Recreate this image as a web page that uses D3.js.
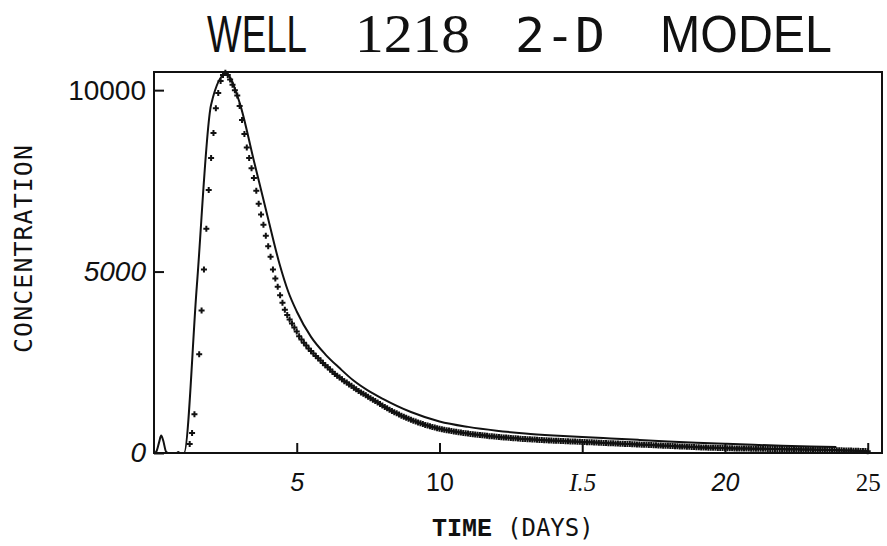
<!DOCTYPE html>
<html>
<head>
<meta charset="utf-8">
<script src="https://cdn.jsdelivr.net/npm/d3@7"></script>
<style>
  body { margin: 0; background: #fff; }
  svg { display: block; }
</style>
</head>
<body>
<svg id="svg" width="887" height="546"></svg>
<script>
// model curve (solid line), time in days
const modelDays = [0, 0.08, 0.18, 0.25, 0.32, 0.42, 0.5, 0.8, 0.85, 0.9, 1.05, 1.5, 2.0, 2.52, 3.0, 3.5, 4.0, 4.4, 4.7,
  5.0, 5.5, 6.0, 6.5, 7.0, 7.5, 8.0, 9.0, 10, 11, 12, 13, 14, 15, 16, 17, 18, 19, 20, 21, 22, 23, 23.9]
const modelConc = [0, 40, 300, 480, 350, 40, 0, 0, 30, 0, 0, 4600, 9600, 10450, 9650, 8050, 6450, 5200, 4450,
  3900, 3200, 2720, 2340, 1990, 1720, 1500, 1130, 870, 720, 615, 540, 485, 440, 400, 360, 320, 285, 255, 225, 200, 180, 165]

// observed tracer (+ markers), one sample every 2 hours starting at hour 30
const obsStartHour = 30
const obsStepHours = 2
const obsConc = [
  250, 550, 1070, null, 2720, 3930, 5060, 6180, 7250, 8130, 8820, 9500, 9920, 10250, 10420,
  10480, 10420, 10290, 10150, 10000, 9850, 9560, 9180, 8790, 8420, 8130, 7850, 7580, 7230, 6870, 6570, 6290, 5990,
  5700, 5410, 5060, 4810, 4580, 4350, 4140, 3950, 3800, 3680, 3570, 3460,
  3350, 3220, 3130, 3040, 2960, 2880, 2810, 2740, 2670, 2610, 2550, 2480,
  2420, 2360, 2300, 2240, 2180, 2130, 2080, 2030, 1980, 1940, 1890, 1850,
  1800, 1760, 1710, 1670, 1630, 1590, 1550, 1510, 1470, 1430, 1390, 1350,
  1310, 1270, 1232, 1195, 1160, 1126, 1093, 1061, 1030, 1000, 971, 943,
  916, 890, 865, 841, 818, 796, 775, 755, 736, 718, 701, 685, 669,
  655, 642, 629, 617, 605, 594, 583, 572, 562, 552,
  543, 534, 525, 517, 509, 501, 493, 486, 479, 472,
  465, 459, 453, 447, 441, 435, 429, 424, 419, 414,
  409, 404, 399, 394, 389, 385, 381, 377, 373, 369,
  365, 361, 357, 353, 350, 347, 344, 341, 338, 335,
  332, 329, 326, 323, 320, 317, 314, 311, 308, 305,
  302, 299, 296, 293, 290, 287, 284, 281, 278, 275,
  272, 269, 266, 263, 260, 257, 254, 251, 248, 245,
  242, 239, 236, 233, 230, 227, 224, 221, 218, 215,
  212, 209, 206, 203, 200, 197, 194, 191, 188, 185,
  182, 179, 176, 173, 170, 167, 164, 161, 158, 155,
  152, 150, 148, 146, 144, 142, 140, 138, 136, 134,
  132, 130, 128, 127, 126, 125, 124, 123, 122, 121,
  120, 119, 118, 117, 116, 115, 114, 113, 112, 111,
  110, 109, 108, 107, 106, 105, 104, 103, 102, 101,
  100, 99, 98, 97, 96, 95, 94, 93, 92, 91,
  90, 88, 86, 84, 82, 80, 78, 76, 74, 72,
  70, 68, 66, 64, 62, 60, 58, 55, 52, 50
]

const xTicks = [5, 10, 15, 20, 25]
const xTickLabels = ['5', '10', 'I.5', '20', '25']
const yTicks = [0, 5000, 10000]
const yTickLabels = ['0', '5000', '10000']

const svg = d3.select('#svg')

const x = d3.scaleLinear().domain([0, 25.5]).range([154, 882])
const y = d3.scaleLinear().domain([0, 10500]).range([453, 72])

// frame
svg.append('rect')
  .attr('x', x(0)).attr('y', y(10500))
  .attr('width', x(25.5) - x(0)).attr('height', y(0) - y(10500))
  .attr('fill', 'none').attr('stroke', '#111').attr('stroke-width', 2)

// axes, ticks pointing inward
const xAxis = svg.append('g')
  .attr('transform', `translate(0,${y(0)})`)
  .call(d3.axisBottom(x).tickValues(xTicks).tickSizeInner(-10).tickSizeOuter(0).tickPadding(20)
    .tickFormat((d, i) => xTickLabels[i]))
xAxis.select('.domain').remove()
xAxis.selectAll('line').attr('stroke', '#111').attr('stroke-width', 2)
// the original print mixes typefaces on the labels
const xFonts = [
  ['Liberation Sans', 'italic'], ['Liberation Sans', 'normal'], ['Liberation Serif', 'italic'],
  ['Liberation Sans', 'italic'], ['Liberation Serif', 'normal']]
xAxis.selectAll('text')
  .attr('fill', '#111')
  .style('font-size', '25px')
  .style('font-family', (d, i) => xFonts[i][0])
  .style('font-style', (d, i) => xFonts[i][1])

const yAxis = svg.append('g')
  .attr('transform', `translate(${x(0)},0)`)
  .call(d3.axisLeft(y).tickValues(yTicks).tickSizeInner(-10).tickSizeOuter(0).tickPadding(8)
    .tickFormat((d, i) => yTickLabels[i]))
yAxis.select('.domain').remove()
yAxis.selectAll('line').attr('stroke', '#111').attr('stroke-width', 2)
const yStyles = ['italic', 'italic', 'normal']
yAxis.selectAll('text')
  .attr('fill', '#111')
  .style('font-size', '28px')
  .style('font-family', 'Liberation Sans')
  .style('font-style', (d, i) => yStyles[i])

// model line
const model = modelDays.map((d, i) => [d, modelConc[i]])
svg.append('path')
  .datum(model)
  .attr('fill', 'none')
  .attr('stroke', '#111')
  .attr('stroke-width', 2)
  .attr('stroke-linejoin', 'round')
  .attr('d', d3.line().x(d => x(d[0])).y(d => y(d[1])).curve(d3.curveMonotoneX))

// observed points
const obs = obsConc.map((c, i) => [(obsStartHour + obsStepHours * i) / 24, c]).filter(d => d[1] != null)
svg.append('g').selectAll('path').data(obs)
  .enter().append('path')
    .attr('transform', d => `translate(${x(d[0])},${y(d[1])})`)
    .attr('d', 'M-3,0H3M0,-3V3')
    .attr('stroke', '#111')
    .attr('stroke-width', 2)

// title, each word in its own typeface like the pasted-up original
const titleWords = [
  { t: 'WELL', x: 207, w: 100, font: 'Liberation Sans', size: 52 },
  { t: '1218', x: 355, w: 115, font: 'Liberation Serif', size: 54 },
  { t: '2-D', x: 515, w: 90, font: 'DejaVu Sans Mono', size: 48 },
  { t: 'MODEL', x: 660, w: 172, font: 'Liberation Sans', size: 52 }
]
svg.append('g').selectAll('text').data(titleWords)
  .enter().append('text')
    .attr('x', d => d.x)
    .attr('y', 52)
    .attr('fill', '#111')
    .attr('textLength', d => d.w)
    .attr('lengthAdjust', 'spacingAndGlyphs')
    .style('font-family', d => d.font)
    .style('font-size', d => d.size + 'px')
    .text(d => d.t)

// axis titles
svg.append('text')
  .attr('transform', 'translate(32,249) rotate(-90)')
  .attr('text-anchor', 'middle')
  .attr('fill', '#111')
  .attr('textLength', 208)
  .style('font-family', 'DejaVu Sans Mono')
  .style('font-size', '25px')
  .text('CONCENTRATION')

const xTitle = svg.append('text').attr('x', 432).attr('y', 536).attr('fill', '#111')
xTitle.append('tspan').text('TIME ')
  .style('font-family', 'Liberation Mono').style('font-weight', 'bold').style('font-size', '25px')
xTitle.append('tspan').text('(DAYS)')
  .style('font-family', 'DejaVu Sans Mono').style('font-size', '24px')
</script>
</body>
</html>
